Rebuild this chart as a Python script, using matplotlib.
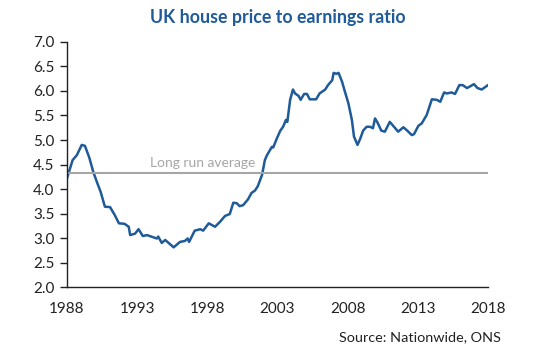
import matplotlib.pyplot as plt

# values
years = [1988.0, 1988.4, 1988.7, 1989.05, 1989.28, 1989.6, 1989.87, 1990.16, 1990.4,
         1990.7, 1991.07, 1991.4, 1991.7, 1992.1, 1992.4, 1992.5, 1992.85, 1993.1,
         1993.4, 1993.7, 1994.0, 1994.4, 1994.5, 1994.75, 1995.0, 1995.6, 1996.05,
         1996.4, 1996.6, 1996.7, 1997.1, 1997.5, 1997.7, 1998.1, 1998.55, 1998.9,
         1999.26, 1999.6, 1999.85, 2000.1, 2000.3, 2000.55, 2000.9, 2001.15, 2001.4,
         2001.6, 2001.9, 2002.1, 2002.25, 2002.6, 2002.7, 2002.95, 2003.2, 2003.4,
         2003.6, 2003.7, 2003.9, 2004.1, 2004.25, 2004.5, 2004.65, 2004.9, 2005.1,
         2005.3, 2005.75, 2006.0, 2006.4, 2006.6, 2006.9, 2007.0, 2007.2, 2007.35,
         2007.6, 2007.8, 2008.05, 2008.3, 2008.45, 2008.7, 2008.9, 2009.1, 2009.35,
         2009.6, 2009.8, 2009.95, 2010.1, 2010.4, 2010.65, 2011.0, 2011.3, 2011.6,
         2011.97, 2012.25, 2012.57, 2012.73, 2013.04, 2013.28, 2013.63, 2014.0,
         2014.35, 2014.6, 2014.87, 2015.06, 2015.4, 2015.65, 2015.96, 2016.2, 2016.5,
         2016.7, 2017.0, 2017.25, 2017.55, 2017.8, 2018.0]
ratio = [4.22, 4.59, 4.69, 4.90, 4.88, 4.63, 4.35, 4.12, 3.94,
         3.64, 3.63, 3.47, 3.30, 3.29, 3.23, 3.06, 3.09, 3.18,
         3.04, 3.06, 3.03, 2.99, 3.03, 2.90, 2.96, 2.81, 2.92,
         2.94, 2.99, 2.92, 3.15, 3.18, 3.15, 3.30, 3.23, 3.33,
         3.45, 3.49, 3.72, 3.71, 3.65, 3.67, 3.79, 3.92, 3.97,
         4.06, 4.29, 4.59, 4.69, 4.86, 4.85, 5.03, 5.19, 5.27,
         5.41, 5.37, 5.82, 6.03, 5.95, 5.90, 5.82, 5.94, 5.94,
         5.83, 5.83, 5.95, 6.03, 6.12, 6.22, 6.37, 6.35, 6.37,
         6.19, 5.99, 5.75, 5.41, 5.07, 4.90, 5.03, 5.19, 5.27,
         5.27, 5.24, 5.44, 5.37, 5.19, 5.17, 5.37, 5.27, 5.17,
         5.26, 5.19, 5.10, 5.12, 5.29, 5.34, 5.51, 5.83,
         5.82, 5.78, 5.97, 5.95, 5.97, 5.94, 6.12, 6.12, 6.06,
         6.09, 6.14, 6.06, 6.03, 6.08, 6.12]
long_run_avg = 4.33
xticks = [1988, 1993, 1998, 2003, 2008, 2013, 2018]
yticks = [2.0, 2.5, 3.0, 3.5, 4.0, 4.5, 5.0, 5.5, 6.0, 6.5, 7.0]

plt.rcParams['font.family'] = ['Lato', 'DejaVu Sans']
blue = '#1f5a99'

fig = plt.figure(figsize=(5.56, 3.57), dpi=100)
ax = fig.add_axes([0.1205, 0.196, 0.7572, 0.6864])

ax.plot(years, ratio, color=blue, lw=1.8)
ax.axhline(long_run_avg, color='#a6a6a6', lw=1.5)
ax.text(1993.9, long_run_avg + 0.07, 'Long run average', color='#a6a6a6',
        fontsize=10, va='bottom')

ax.set_xlim(1988, 2018)
ax.set_ylim(2.0, 7.0)
ax.set_xticks(xticks)
ax.set_yticks(yticks)
ax.set_yticklabels([f'{v:.1f}' for v in yticks])
ax.tick_params(axis='x', length=0, pad=11, labelsize=11, colors='#222222')
ax.tick_params(axis='y', length=5, width=1, pad=4, labelsize=11,
               colors='#222222', direction='out')

for s in ['top', 'right']:
    ax.spines[s].set_visible(False)
for s in ['left', 'bottom']:
    ax.spines[s].set_color('#222222')
    ax.spines[s].set_linewidth(1)

ax.set_title('UK house price to earnings ratio', color=blue, fontsize=12.8,
             fontweight='bold', pad=14)
fig.text(0.9, 0.055, 'Source: Nationwide, ONS', ha='right', va='center',
         fontsize=10.4, color='#222222')

fig.savefig('out.png', dpi=100, facecolor='white')
